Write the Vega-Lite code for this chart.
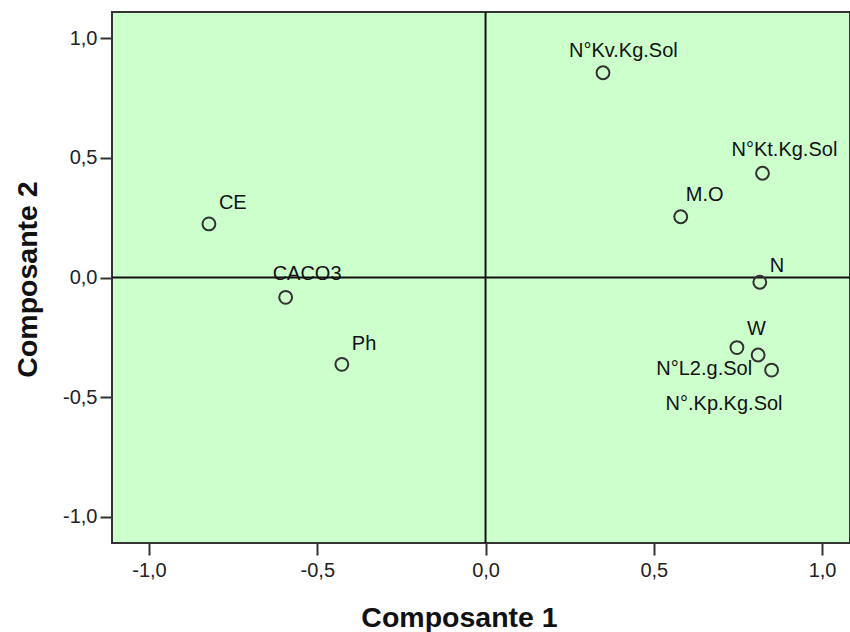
{
  "$schema": "https://vega.github.io/schema/vega-lite/v6.json",
  "width": 738,
  "height": 531,
  "autosize": {"type": "none"},
  "padding": {"left": 112, "top": 12, "right": 0, "bottom": 89},
  "background": "white",
  "config": {
    "view": {"fill": "#ccffcc", "stroke": "#333333", "strokeWidth": 2},
    "font": "Liberation Sans",
    "axis": {
      "domain": false, "grid": false, "ticks": true, "tickSize": 12, "tickWidth": 2, "tickColor": "#333333",
      "labelFont": "Liberation Sans", "labelFontSize": 20, "labelColor": "#222222", "labelFlush": false, "labelOverlap": false,
      "titleFont": "Liberation Sans", "titleFontSize": 28.5, "titleFontWeight": "bold", "titleColor": "#111111"
    },
    "text": {"font": "Liberation Sans", "fontSize": 20, "color": "#111111", "baseline": "alphabetic", "align": "left"}
  },
  "data": {"values": [
    {"label": "CE", "c1": -0.822, "c2": 0.224},
    {"label": "CACO3", "c1": -0.594, "c2": -0.083},
    {"label": "Ph", "c1": -0.427, "c2": -0.363},
    {"label": "N°Kv.Kg.Sol", "c1": 0.349, "c2": 0.856},
    {"label": "N°Kt.Kg.Sol", "c1": 0.823, "c2": 0.436},
    {"label": "M.O", "c1": 0.580, "c2": 0.254},
    {"label": "N", "c1": 0.815, "c2": -0.020},
    {"label": "W", "c1": 0.747, "c2": -0.293},
    {"label": "N°L2.g.Sol", "c1": 0.810, "c2": -0.324},
    {"label": "N°.Kp.Kg.Sol", "c1": 0.850, "c2": -0.387}
  ]},
  "layer": [
    {
      "data": {"values": [{}]},
      "mark": {"type": "rule", "color": "#111111", "strokeWidth": 2},
      "encoding": {"x": {"datum": 0, "type": "quantitative", "title": "Composante 1"}}
    },
    {
      "data": {"values": [{}]},
      "mark": {"type": "rule", "color": "#111111", "strokeWidth": 2},
      "encoding": {"y": {"datum": 0, "type": "quantitative", "title": "Composante 2"}}
    },
    {
      "mark": {"type": "point", "shape": "circle", "filled": false, "size": 165, "strokeWidth": 2, "color": "#333333", "opacity": 1},
      "encoding": {
        "x": {"field": "c1", "type": "quantitative", "title": "Composante 1",
          "scale": {"domain": [-1.11, 1.083], "nice": false, "zero": false},
          "axis": {"values": [-1, -0.5, 0, 0.5, 1], "labelPadding": 5,
            "labelExpr": "replace(replace(format(datum.value, '.1f'), '.', ','), '\u2212', '-')",
            "titleX": 347, "titleY": 83, "titleBaseline": "alphabetic"}},
        "y": {"field": "c2", "type": "quantitative", "title": "Composante 2",
          "scale": {"domain": [-1.11, 1.11], "nice": false, "zero": false},
          "axis": {"values": [-1, -0.5, 0, 0.5, 1], "labelPadding": 3,
            "labelExpr": "replace(replace(format(datum.value, '.1f'), '.', ','), '\u2212', '-')",
            "titleX": -76, "titleY": 267, "titleBaseline": "alphabetic"}}
      }
    },
    {"transform": [{"filter": "datum.label === 'CE'"}], "mark": {"type": "text", "dx": 10, "dy": -15},
      "encoding": {"x": {"field": "c1", "type": "quantitative"}, "y": {"field": "c2", "type": "quantitative"}, "text": {"field": "label"}}},
    {"transform": [{"filter": "datum.label === 'CACO3'"}], "mark": {"type": "text", "dx": -13, "dy": -17},
      "encoding": {"x": {"field": "c1", "type": "quantitative"}, "y": {"field": "c2", "type": "quantitative"}, "text": {"field": "label"}}},
    {"transform": [{"filter": "datum.label === 'Ph'"}], "mark": {"type": "text", "dx": 10, "dy": -14},
      "encoding": {"x": {"field": "c1", "type": "quantitative"}, "y": {"field": "c2", "type": "quantitative"}, "text": {"field": "label"}}},
    {"transform": [{"filter": "datum.label === 'N°Kv.Kg.Sol'"}], "mark": {"type": "text", "dx": -34, "dy": -16},
      "encoding": {"x": {"field": "c1", "type": "quantitative"}, "y": {"field": "c2", "type": "quantitative"}, "text": {"field": "label"}}},
    {"transform": [{"filter": "datum.label === 'N°Kt.Kg.Sol'"}], "mark": {"type": "text", "dx": -31, "dy": -17},
      "encoding": {"x": {"field": "c1", "type": "quantitative"}, "y": {"field": "c2", "type": "quantitative"}, "text": {"field": "label"}}},
    {"transform": [{"filter": "datum.label === 'M.O'"}], "mark": {"type": "text", "dx": 5, "dy": -16},
      "encoding": {"x": {"field": "c1", "type": "quantitative"}, "y": {"field": "c2", "type": "quantitative"}, "text": {"field": "label"}}},
    {"transform": [{"filter": "datum.label === 'N'"}], "mark": {"type": "text", "dx": 10, "dy": -10},
      "encoding": {"x": {"field": "c1", "type": "quantitative"}, "y": {"field": "c2", "type": "quantitative"}, "text": {"field": "label"}}},
    {"transform": [{"filter": "datum.label === 'W'"}], "mark": {"type": "text", "dx": 10, "dy": -13},
      "encoding": {"x": {"field": "c1", "type": "quantitative"}, "y": {"field": "c2", "type": "quantitative"}, "text": {"field": "label"}}},
    {"transform": [{"filter": "datum.label === 'N°L2.g.Sol'"}], "mark": {"type": "text", "align": "right", "dx": -6, "dy": 20},
      "encoding": {"x": {"field": "c1", "type": "quantitative"}, "y": {"field": "c2", "type": "quantitative"}, "text": {"field": "label"}}},
    {"transform": [{"filter": "datum.label === 'N°.Kp.Kg.Sol'"}], "mark": {"type": "text", "dx": -106, "dy": 40},
      "encoding": {"x": {"field": "c1", "type": "quantitative"}, "y": {"field": "c2", "type": "quantitative"}, "text": {"field": "label"}}}
  ]
}
